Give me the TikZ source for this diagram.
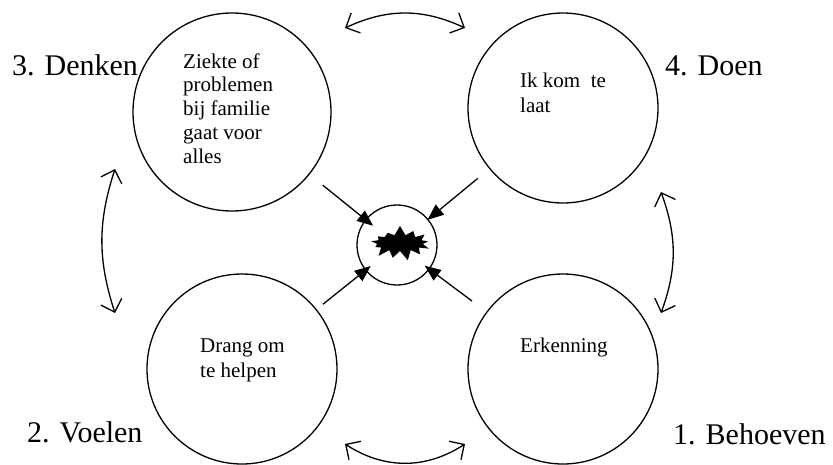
\documentclass[tikz,border=0pt]{standalone}
\usepackage{fontspec}
\setmainfont{Liberation Serif}
\usetikzlibrary{
  shapes.symbols,
  arrows.meta
}

\begin{document}
\begin{tikzpicture}[x=1pt,y=-1pt,
    bol/.style={draw,circle,line width=1.3pt,inner sep=0pt,minimum size=190pt},
    fase/.style={anchor=base west,inner sep=0pt,font=\fontsize{30}{36}\selectfont},
    tekst/.style={anchor=base west,inner sep=0pt,align=left,font=\fontsize{21}{23.7}\selectfont},
    pijl/.style={line width=1.3pt,-{Triangle[length=16pt,width=13pt]}},
    wissel/.style={line width=1.3pt,{Straight Barb[length=11pt,width=22pt]}-{Straight Barb[length=11pt,width=22pt]}}]
    \useasboundingbox (0,0) rectangle (833,464);

    \node[bol,minimum size=198pt] (denken) at (232,112) {};
    \node[bol] (doen) at (563,108) {};
    \node[bol] (voelen) at (242,369) {};
    \node[bol] (behoeven) at (563,369) {};
    \node[bol,minimum size=80pt] (kern) at (397,245) {};
    \node[starburst,fill=black,inner sep=0pt,minimum width=66pt,minimum height=36pt,
      starburst points=13,starburst point height=10pt,random starburst=7] (knal) at (400,243) {};

    \node[fase] (l3) at (12,75) {3. Denken};
    \node[fase] (l4) at (665,75) {4. Doen};
    \node[fase] (l2) at (27,442) {2. Voelen};
    \node[fase] (l1) at (673,444) {1. Behoeven};

    % base = laatste regel
    \node[tekst] (t3) at (183,163) {Ziekte of\\problemen\\bij familie\\gaat voor\\alles};
    \node[tekst,font=\fontsize{21}{25}\selectfont] (t4) at (520,112) {Ik kom~ te\\laat};
    \node[tekst,font=\fontsize{21}{25}\selectfont] (t2) at (200,377) {Drang om\\te helpen};
    \node[tekst] (t1) at (520,352) {Erkenning};

    \draw[pijl,shorten <=17pt,shorten >=-10pt] (denken) -- (kern);
    \draw[pijl,shorten <=15pt,shorten >=-1pt] (doen) -- (kern);
    \draw[pijl,shorten <=8pt,shorten >=-7pt] (voelen) -- (kern);
    \draw[pijl,shorten <=18pt,shorten >=-6pt] (behoeven) -- (kern);

    \coordinate (b1) at (345,28);
    \coordinate (b2) at (465,28);
    \coordinate (o1) at (345,444);
    \coordinate (o2) at (465,444);
    \coordinate (l1a) at (115,169);
    \coordinate (l1b) at (115,313);
    \coordinate (r1a) at (661,192);
    \coordinate (r1b) at (661,313);

    \draw[wissel] (b1) to[bend left=25] (b2);
    \draw[wissel] (o1) to[bend right=33] (o2);
    \draw[wissel] (l1a) to[bend right=18] (l1b);
    \draw[wissel] (r1a) to[bend left=20] (r1b);
  \end{tikzpicture}
\end{document}
